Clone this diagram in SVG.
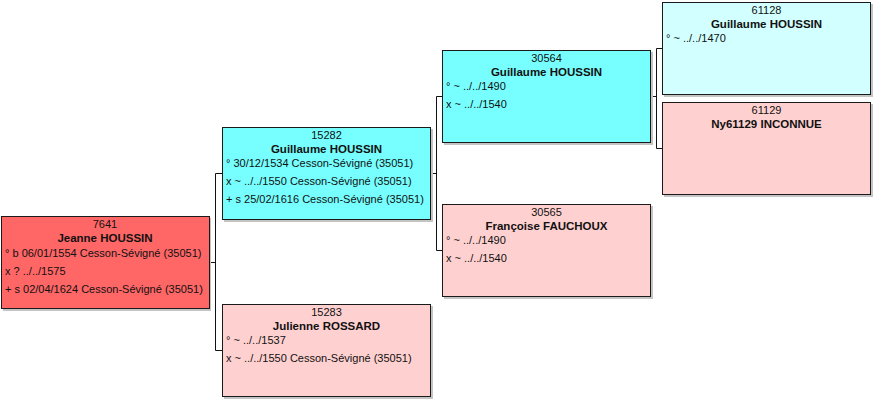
<svg xmlns="http://www.w3.org/2000/svg" width="878" height="405" viewBox="0 0 878 405">
<style>
.box{stroke:#1a1a1a;stroke-width:1}
.sh{fill:#c4c4c4}
.red{fill:#ff6666}
.cyan{fill:#77ffff}
.lcyan{fill:#d2ffff}
.pink{fill:#ffd0d0}
text{font-family:"Liberation Sans",Arial,sans-serif;fill:#111}
.id{font-size:11px;text-anchor:middle}
.nm{font-size:11.5px;font-weight:bold;text-anchor:middle}
.ln{font-size:11px}
.con{fill:none;stroke:#111;stroke-width:1}
</style>
<rect width="878" height="405" fill="#ffffff"/>
<g id="connectors">
<path class="con" d="M209.5 262.5H215.5M215.5 173.5V350.5M215.5 173.5H222M215.5 350.5H222"/>
<path class="con" d="M431 173.5H436.5M436.5 96.5V250.5M436.5 96.5H442M436.5 250.5H442"/>
<path class="con" d="M650 96.5H656.5M656.5 48.5V148.5M656.5 48.5H662M656.5 148.5H662"/>
</g>
<g id="n7641">
<rect class="sh" x="3" y="218" width="208" height="93"/>
<rect class="box red" x="1.5" y="216.5" width="208" height="92"/>
<text class="id" x="105" y="228">7641</text>
<text class="nm" x="105" y="242">Jeanne HOUSSIN</text>
<text class="ln" x="5" y="257">° b 06/01/1554 Cesson-Sévigné (35051)</text>
<text class="ln" x="5" y="275">x ? ../../1575</text>
<text class="ln" x="5" y="293">+ s 02/04/1624 Cesson-Sévigné (35051)</text>
</g>
<g id="n15282">
<rect class="sh" x="224" y="129" width="209" height="93"/>
<rect class="box cyan" x="222.5" y="127.5" width="208" height="92"/>
<text class="id" x="326.5" y="139">15282</text>
<text class="nm" x="326.5" y="153">Guillaume HOUSSIN</text>
<text class="ln" x="226" y="167">° 30/12/1534 Cesson-Sévigné (35051)</text>
<text class="ln" x="226" y="185">x ~ ../../1550 Cesson-Sévigné (35051)</text>
<text class="ln" x="226" y="203">+ s 25/02/1616 Cesson-Sévigné (35051)</text>
</g>
<g id="n15283">
<rect class="sh" x="224" y="306" width="209" height="93"/>
<rect class="box pink" x="222.5" y="304.5" width="208" height="92"/>
<text class="id" x="326.5" y="316">15283</text>
<text class="nm" x="326.5" y="330">Julienne ROSSARD</text>
<text class="ln" x="226" y="344">° ~ ../../1537</text>
<text class="ln" x="226" y="362">x ~ ../../1550 Cesson-Sévigné (35051)</text>
</g>
<g id="n30564">
<rect class="sh" x="444" y="52" width="209" height="93"/>
<rect class="box cyan" x="442.5" y="50.5" width="208" height="92"/>
<text class="id" x="546.5" y="62">30564</text>
<text class="nm" x="546.5" y="76">Guillaume HOUSSIN</text>
<text class="ln" x="446" y="90">° ~ ../../1490</text>
<text class="ln" x="446" y="108">x ~ ../../1540</text>
</g>
<g id="n30565">
<rect class="sh" x="444" y="206" width="209" height="93"/>
<rect class="box pink" x="442.5" y="204.5" width="208" height="92"/>
<text class="id" x="546.5" y="216">30565</text>
<text class="nm" x="546.5" y="230">Françoise FAUCHOUX</text>
<text class="ln" x="446" y="244">° ~ ../../1490</text>
<text class="ln" x="446" y="262">x ~ ../../1540</text>
</g>
<g id="n61128">
<rect class="sh" x="664" y="4" width="209" height="93"/>
<rect class="box lcyan" x="662.5" y="2.5" width="208" height="92"/>
<text class="id" x="766.5" y="14">61128</text>
<text class="nm" x="766.5" y="28">Guillaume HOUSSIN</text>
<text class="ln" x="666" y="42">° ~ ../../1470</text>
</g>
<g id="n61129">
<rect class="sh" x="664" y="104" width="209" height="93"/>
<rect class="box pink" x="662.5" y="102.5" width="208" height="92"/>
<text class="id" x="766.5" y="114">61129</text>
<text class="nm" x="766.5" y="128">Ny61129 INCONNUE</text>
</g>
</svg>
